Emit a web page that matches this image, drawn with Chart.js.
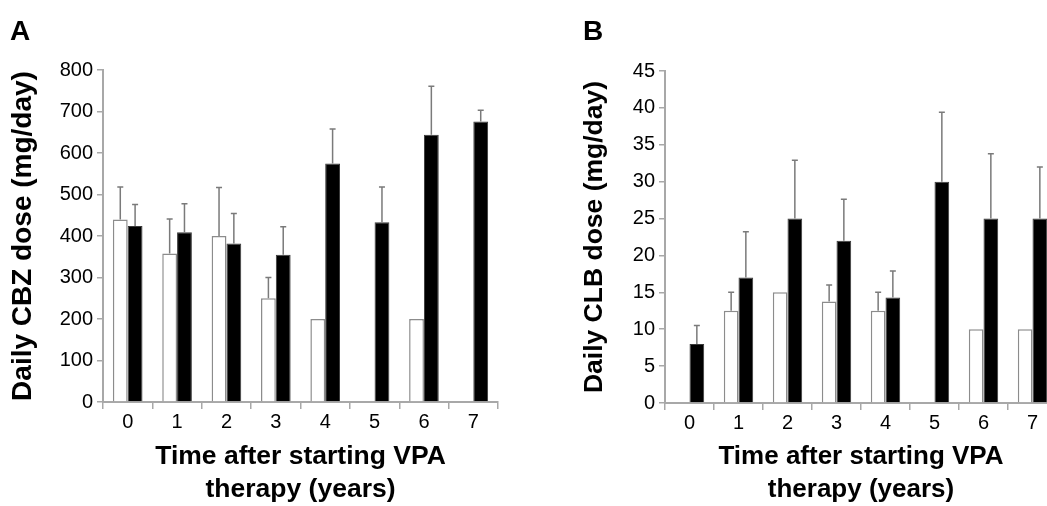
<!DOCTYPE html>
<html>
<head>
<meta charset="utf-8">
<script src="https://cdn.jsdelivr.net/npm/chart.js@4/dist/chart.umd.min.js"></script>
<style>
  html, body { margin: 0; padding: 0; background: #fff; }
  body { width: 1047px; height: 506px; overflow: hidden; position: relative; }
  #chartA { position: absolute; left: 0; top: 0; }
  #chartB { position: absolute; left: 560px; top: 0; }
</style>
</head>
<body>
<canvas id="chartA" width="520" height="506"></canvas>
<canvas id="chartB" width="510" height="506"></canvas>
<script>
const years = ['0', '1', '2', '3', '4', '5', '6', '7'];

// panel A - CBZ (mg/day)
const cbzOpen = [440, 358, 400, 250, 200, null, 200, null];
const cbzOpenErr = [78, 83, 117, 50, null, null, null, null];
const cbzFilled = [424, 409, 382, 355, 575, 433, 644, 676];
const cbzFilledErr = [52, 69, 72, 67, 83, 85, 117, 27];
const cbzTicks = [0, 800, 100];

// panel B - CLB (mg/day)
const clbOpen = [null, 12.5, 15, 13.75, 12.5, null, 10, 10];
const clbOpenErr = [null, 2.5, null, 2.25, 2.5, null, null, null];
const clbFilled = [8, 17, 25, 22, 14.3, 30, 25, 25];
const clbFilledErr = [2.5, 6.2, 7.9, 5.6, 3.6, 9.4, 8.8, 7];
const clbTicks = [0, 45, 5];

const FONT = 'Arial, "Liberation Sans", Helvetica, sans-serif';
const axisGray = '#a8a8a8';

// draws the upper error bars from each dataset's "errors" array
const errorBars = {
  id: 'errorBars',
  afterDatasetsDraw(chart) {
    const ctx = chart.ctx;
    const y = chart.scales.y;
    ctx.save();
    ctx.strokeStyle = '#7a7a7a';
    ctx.lineWidth = 1.5;
    chart.data.datasets.forEach((ds, i) => {
      const meta = chart.getDatasetMeta(i);
      meta.data.forEach((bar, j) => {
        const v = ds.data[j], e = ds.errors[j];
        if (v == null || e == null) return;
        const yTop = y.getPixelForValue(v + e);
        const yBar = y.getPixelForValue(v);
        ctx.beginPath();
        ctx.moveTo(bar.x, yBar);
        ctx.lineTo(bar.x, yTop);
        ctx.moveTo(bar.x - 3, yTop);
        ctx.lineTo(bar.x + 3, yTop);
        ctx.stroke();
      });
    });
    ctx.restore();
  }
};

// panel letter
const panelLetter = {
  id: 'panelLetter',
  afterDraw(chart, args, opts) {
    const ctx = chart.ctx;
    ctx.save();
    ctx.fillStyle = '#000';
    ctx.font = 'bold 28px ' + FONT;
    ctx.textBaseline = 'alphabetic';
    ctx.fillText(opts.text, opts.x, opts.y);
    ctx.restore();
  }
};

function makeChart(id, open, openErr, filled, filledErr, ticks, yTitle, cfg) {
  const ctx = document.getElementById(id).getContext('2d');
  return new Chart(ctx, {
    type: 'bar',
    data: {
      labels: years,
      datasets: [
        {
          label: 'open',
          data: open,
          errors: openErr,
          backgroundColor: '#ffffff',
          borderColor: '#8c8c8c',
          borderWidth: 1.5,
          categoryPercentage: 0.6,
          barPercentage: 1.0
        },
        {
          label: 'filled',
          data: filled,
          errors: filledErr,
          backgroundColor: '#000000',
          borderColor: '#3a3a3a',
          borderWidth: 1,
          categoryPercentage: 0.6,
          barPercentage: 1.0
        }
      ]
    },
    options: {
      responsive: false,
      animation: false,
      devicePixelRatio: 1,
      layout: { padding: { top: cfg.top, right: cfg.right, left: 0, bottom: 0 } },
      plugins: {
        legend: { display: false },
        tooltip: { enabled: false },
        panelLetter: { text: cfg.letter, x: cfg.letterX, y: 40 }
      },
      scales: {
        x: {
          offset: true,
          grid: { display: true, drawOnChartArea: false, tickLength: 7, color: axisGray, lineWidth: 1.5 },
          border: { display: true, color: axisGray, width: 2 },
          ticks: { color: '#000', font: { family: FONT, size: 20 }, padding: 1, maxRotation: 0 },
          title: {
            display: true,
            text: ['Time after starting VPA', 'therapy (years)'],
            color: '#000',
            font: { family: FONT, size: cfg.xTitleSize, weight: 'bold', lineHeight: 1.25 },
            padding: { top: 0, bottom: 0 }
          },
          afterFit(scale) { scale.height = cfg.xHeight; }
        },
        y: {
          min: ticks[0],
          max: ticks[1],
          grid: { display: true, drawOnChartArea: false, tickLength: 6, color: axisGray, lineWidth: 1.5 },
          border: { display: true, color: axisGray, width: 2 },
          ticks: { stepSize: ticks[2], color: '#000', font: { family: FONT, size: 20 }, padding: 4 },
          title: {
            display: true,
            text: yTitle,
            color: '#000',
            font: { family: FONT, size: cfg.yTitleSize, weight: 'bold', lineHeight: 1.2 },
            padding: { top: cfg.yTitlePad, bottom: 0 }
          },
          afterFit(scale) { scale.width = cfg.yWidth; }
        }
      }
    },
    plugins: [errorBars, panelLetter]
  });
}

makeChart('chartA', cbzOpen, cbzOpenErr, cbzFilled, cbzFilledErr, cbzTicks,
  'Daily CBZ dose (mg/day)',
  { top: 70, right: 22, xHeight: 104, yWidth: 103, yTitleSize: 28, yTitlePad: 6, xTitleSize: 26.5,
    letter: 'A', letterX: 10 });

makeChart('chartB', clbOpen, clbOpenErr, clbFilled, clbFilledErr, clbTicks,
  'Daily CLB dose (mg/day)',
  { top: 71, right: 13, xHeight: 103, yWidth: 105, yTitleSize: 26.5, yTitlePad: 19, xTitleSize: 26,
    letter: 'B', letterX: 23 });
</script>
</body>
</html>
